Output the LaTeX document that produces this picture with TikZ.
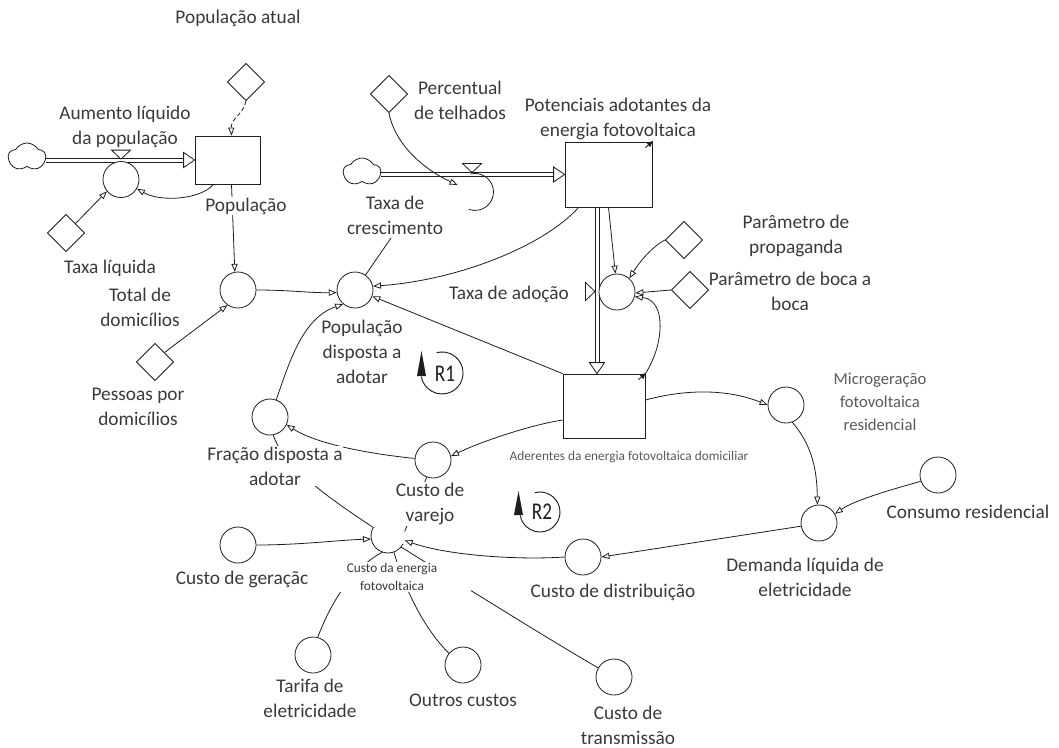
\documentclass[tikz,border=0pt]{standalone}
\usepackage{fontspec}
\setmainfont{Carlito}
\usetikzlibrary{shapes.geometric,shapes.symbols,arrows.meta,calc}
\pgfdeclarelayer{bgl}
\pgfdeclarelayer{links}
\pgfsetlayers{bgl,links,main}
\definecolor{txt}{HTML}{3A3A3A}
\definecolor{txtb}{HTML}{5A5A5A}
\definecolor{ln}{HTML}{1E1E1E}
\newcommand\lblfont{\fontsize{14.5}{18.75}\selectfont}
\newcommand\smfont{\fontsize{10}{14}\selectfont}
\newcommand\midfont{\fontsize{12.5}{17.25}\selectfont}
\newcommand\loopfont{\fontsize{18}{18}\selectfont}
\begin{document}
\begin{tikzpicture}[x=0.75pt,y=-0.75pt,
  aux/.style={circle,draw=ln,fill=white,minimum size=27pt,inner sep=0pt,line width=0.6pt},
  ghost/.style={circle,minimum size=#1,inner sep=0pt},
  cst/.style={diamond,draw=ln,fill=white,minimum width=28pt,minimum height=28pt,inner sep=0pt,line width=0.6pt},
  stockbox/.style={rectangle,draw=ln,fill=white,inner sep=0pt,line width=0.6pt},
  lbl/.style={font=\lblfont,text=txt,align=center,fill=white,inner sep=0.5pt},
  conn/.style={draw=ln,line width=0.6pt,-{Triangle[open,length=6pt,width=4.6pt]}},
  connp/.style={draw=ln,line width=0.6pt},
  pipeline/.style={draw=ln,line width=0.55pt},
  cloudy/.style={cloud,draw=ln,fill=white,cloud puffs=5,cloud puff arc=120,aspect=1.35,inner sep=0pt,line width=0.6pt,minimum width=28pt,minimum height=21pt},
  vtri/.style={draw=ln,fill=white,line width=0.6pt},
  cornerarrow/.style={draw=ln,line width=0.7pt,-{Latex[length=5pt,width=4.5pt]}}]
\useasboundingbox (0,0) rectangle (1059,747);
\begin{pgfonlayer}{bgl}
\fill[white] (0,0) rectangle (1059,747);
\end{pgfonlayer}

% ---------- labels ----------
\node[lbl] (lPopAtual) at (238,18) {População atual};
\node[lbl] (lAum) at (125,127) {Aumento líquido\\da população};
\node[lbl] (lPop) at (246,206) {População};
\node[lbl] (lTaxaLiq) at (110,268) {Taxa líquida};
\node[lbl] (lTotDom) at (140,307) {Total de\\domicílios};
\node[lbl] (lPessoas) at (138,407) {Pessoas por\\domicílios};
\node[lbl] (lPopDisp) at (362,352) {População\\disposta a\\adotar};
\node[lbl] (lCresc) at (395,215) {Taxa de\\crescimento};
\node[lbl] (lPerc) at (460,100) {Percentual\\de telhados};
\node[lbl] (lPot) at (618,119) {Potenciais adotantes da\\energia fotovoltaica};
\node[lbl] (lAdocao) at (509,294) {Taxa de adoção};
\node[lbl] (lProp) at (796,236) {Parâmetro de\\propaganda};
\node[lbl] (lBoca) at (790,291) {Parâmetro de boca a\\boca};
\node[lbl,font=\midfont,text=txtb] (lMicro) at (880,402) {Microgeração\\fotovoltaica\\residencial};
\node[lbl,font=\smfont,text=txtb] (lAder) at (629,457) {Aderentes da energia fotovoltaica domiciliar};
\node[lbl] (lFrac) at (275,466) {Fração disposta a\\adotar};
\node[lbl] (lVarejo) at (430,504) {Custo de\\varejo};
\node[lbl] (lGer) at (242,579) {Custo de geraçãc};
\node[lbl,font=\smfont,minimum width=118pt] (lCustoE) at (392,577) {Custo da energia\\fotovoltaica};
\node[lbl] (lTarifa) at (310,698) {Tarifa de\\eletricidade};
\node[lbl] (lOutros) at (463,700) {Outros custos};
\node[lbl] (lTransm) at (628,725) {Custo de\\transmissão};
\node[lbl] (lDistrib) at (613,592) {Custo de distribuição};
\node[lbl] (lDemanda) at (805,577) {Demanda líquida de\\eletricidade};
\node[lbl] (lConsumo) at (968,512) {Consumo residencial};

% ---------- stocks and clouds ----------
\node[stockbox,minimum width=48.75pt,minimum height=36pt] (popStock) at (227.5,160) {};
\node[stockbox,minimum width=65.25pt,minimum height=48.75pt] (potStock) at (608.5,174.5) {};
\node[stockbox,minimum width=61.5pt,minimum height=48pt] (aderStock) at (604,406) {};
\node[cloudy] (cloudA) at (27,157) {};
\node[cloudy] (cloudB) at (362,172) {};
\coordinate (px3) at (597,0);

% ---------- pipes (two parallel lines each) ----------
\draw[pipeline] ($(cloudA.east |- popStock.west)+(0,-2)$) -- ($(popStock.west)+(-11,-2)$);
\draw[pipeline] ($(cloudA.east |- popStock.west)+(0,2)$) -- ($(popStock.west)+(-11,2)$);
\draw[pipeline] ($(cloudB.east |- potStock.west)+(0,-2)$) -- ($(potStock.west)+(-11,-2)$);
\draw[pipeline] ($(cloudB.east |- potStock.west)+(0,2)$) -- ($(potStock.west)+(-11,2)$);
\draw[pipeline] ($(potStock.south -| px3)+(-2,0)$) -- ($(aderStock.north -| px3)+(-2,-11)$);
\draw[pipeline] ($(potStock.south -| px3)+(2,0)$) -- ($(aderStock.north -| px3)+(2,-11)$);

% ---------- other shapes ----------
\node[cst] (popAtual) at (246,82) {};
\node[cst] (taxaLiq) at (66,233) {};
\node[cst] (pessoas) at (155,362) {};
\node[cst] (percentual) at (389,94) {};
\node[cst] (propag) at (684,240) {};
\node[cst] (boca) at (690,290) {};
\node[aux] (aumento) at (121,179.5) {};
\node[aux] (totDom) at (238,290) {};
\node[aux] (popDisp) at (355,290) {};
\node[aux] (adocao) at (617,292) {};
\node[aux] (frac) at (270,417) {};
\node[aux] (varejo) at (433,460) {};
\node[aux] (geracao) at (238,545) {};
\node[aux] (tarifa) at (313,655) {};
\node[aux] (outros) at (463,665) {};
\node[aux] (transm) at (614,677) {};
\node[aux] (distrib) at (583,557) {};
\node[aux] (demanda) at (819,523) {};
\node[aux] (micro) at (786,405) {};
\node[aux] (consumo) at (938,475) {};
\node[ghost=27.75pt] (crescV) at (475,192) {};
\node[ghost=25.5pt] (custoE) at (388,536) {};
\draw[connp] (470.5,174) arc[start angle=-104,end angle=110,radius=18.5];
\draw[connp] (373.6,527) arc[start angle=212,end angle=27,radius=17];

% valves
\draw[vtri] ($(aumento.north)+(-9.5,-11)$) -- ($(aumento.north)+(9.5,-11)$) -- ($(aumento.north)+(0,-2)$) -- cycle;
\draw[vtri] (462.5,163.5) -- (481.5,163.5) -- (472,172.5) -- cycle;
\draw[vtri] (585.5,282.5) -- (585.5,300.5) -- (595,291.5) -- cycle;
% pipe heads
\draw[vtri] ($(popStock.west)+(-11,-7.5)$) -- (popStock.west) -- ($(popStock.west)+(-11,7.5)$) -- cycle;
\draw[vtri] ($(potStock.west)+(-11,-7.5)$) -- (potStock.west) -- ($(potStock.west)+(-11,7.5)$) -- cycle;
\draw[vtri] ($(aderStock.north -| px3)+(-7.5,-11)$) -- (aderStock.north -| px3) -- ($(aderStock.north -| px3)+(7.5,-11)$) -- cycle;
% corner marks
\draw[cornerarrow] ($(potStock.north east)+(-7,6)$) -- ($(potStock.north east)+(1,-1)$);
\draw[cornerarrow] ($(aderStock.north east)+(-7,6)$) -- ($(aderStock.north east)+(1,-1)$);

% loops
\draw[ln,line width=0.7pt] (436.6,352.7) arc[start angle=-105,end angle=170,radius=21];
\fill[ln] (417,376) -- (426,376) -- (421.5,351) -- cycle;
\node[font=\loopfont,text=ln,inner sep=0pt] (r1) at (445,374) {\scalebox{0.8}[1]{R1}};
\draw[ln,line width=0.7pt] (534.8,492.7) arc[start angle=-105,end angle=170,radius=20];
\fill[ln] (514,515) -- (523,515) -- (518.5,491) -- cycle;
\node[font=\loopfont,text=ln,inner sep=0pt] (r2) at (542,512) {\scalebox{0.8}[1]{R2}};

% ---------- connectors ----------
\begin{pgfonlayer}{links}
\draw[conn,dash pattern=on 3pt off 2pt] (popAtual.south) .. controls (243,115) and (231,118) .. ($(popStock.north)+(4,0)$);
\draw[conn] (popStock.-120) .. controls (200,200) and (160,202) .. (aumento.-30);
\draw[conn] (taxaLiq.north east) -- (aumento.-140);
\draw[conn] ($(popStock.south)+(4,0)$) -- (totDom.100);
\draw[conn] (pessoas.north east) -- (totDom.-125);
\draw[conn] (totDom.east) .. controls (290,290) and (310,293) .. (popDisp.-172);
\coordinate (cr) at (391,238);
\draw[connp] (cr) -- (popDisp.55);
\draw[conn] (percentual.south) .. controls (395,145) and (425,170) .. (crescV.158);
\draw[conn] ($(potStock.south west)+(14,0)$) .. controls (545,245) and (460,280) .. (popDisp.12);
\draw[conn] (aderStock.north west) -- (popDisp.-20);
\draw[conn] (potStock.south) -- (adocao.95);
\draw[conn] (propag.west) .. controls (655,245) and (642,258) .. (adocao.48);
\draw[conn] (boca.west) -- (adocao.-3);
\draw[conn] (aderStock.north east) .. controls (664,345) and (667,300) .. (adocao.-15);
\draw[conn] ($(aderStock.west)+(0,14)$) .. controls (530,425) and (480,442) .. (varejo.12);
\draw[conn] ($(aderStock.east)+(0,-6)$) .. controls (690,388) and (730,390) .. (micro.west);
\draw[conn] (micro.-70) .. controls (812,445) and (817,470) .. (demanda.95);
\draw[conn] (consumo.-160) .. controls (890,490) and (855,500) .. (demanda.30);
\draw[conn] (demanda.-170) -- (distrib.east);
\draw[conn] (distrib.west) .. controls (520,560) and (450,556) .. (custoE.-15);
\draw[conn] (geracao.east) .. controls (300,545) and (340,540) .. (custoE.-170);
\draw[conn] (varejo.175) .. controls (380,455) and (320,446) .. (frac.-25);
\draw[connp] (custoE.150) .. controls (340,505) and (285,470) .. (frac.-80);
\draw[conn] (frac.70) .. controls (290,360) and (303,318) .. (popDisp.-130);
\draw[connp] (varejo.-110) -- (custoE.15);
\draw[connp] (tarifa.75) .. controls (330,605) and (350,570) .. (custoE.-110);
\draw[connp] (outros.140) .. controls (425,630) and (405,590) .. (custoE.-70);
\draw[connp] (transm.150) .. controls (550,640) and (470,590) .. (custoE.-40);
\end{pgfonlayer}
\end{tikzpicture}
\end{document}
